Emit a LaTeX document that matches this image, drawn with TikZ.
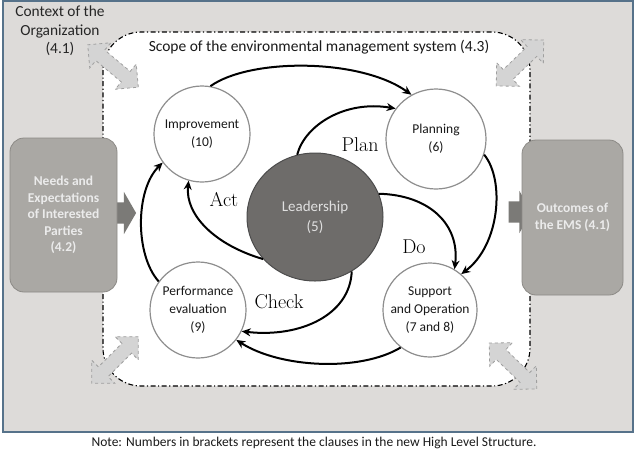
\documentclass[tikz,border=0pt]{standalone}
\usepackage{fontspec}
\setsansfont{Carlito}
\usetikzlibrary{shapes.geometric,shapes.arrows,arrows.meta}
\definecolor{frame}{HTML}{56728A}
\definecolor{backdrop}{HTML}{DDDBD9}
\definecolor{boxgray}{HTML}{AAA8A4}
\definecolor{boxedge}{HTML}{8C8A86}
\definecolor{leader}{HTML}{6E6C6A}
\definecolor{ringgray}{HTML}{8E8E8E}
\definecolor{feedgray}{HTML}{7B7A77}
\definecolor{scopearrow}{HTML}{D4D4D4}

\begin{document}
\begin{tikzpicture}[x=1pt, y=-1pt,
	clause/.style={circle, draw=ringgray, line width=1.2pt, fill=white, align=center, inner sep=0pt, text=black!90, font=\sffamily\fontsize{13.5}{18}\selectfont},
	party/.style={draw=boxedge, fill=boxgray, rounded corners=14pt, line width=0.8pt, align=center, text=white!92!black, font=\sffamily\bfseries\fontsize{13.5}{16.5}\selectfont},
	cycle/.style={line width=2pt, -{Stealth[length=9pt,width=8pt]}},
	phase/.style={font=\fontsize{20}{24}\selectfont, text=black},
	feed/.style={single arrow, fill=feedgray, inner xsep=0pt, inner ysep=10.5pt, single arrow head extend=10.5pt, single arrow tip angle=120, minimum height=23pt},
	link/.style={double arrow, draw=gray!75, dashed, line width=0.8pt, fill=scopearrow, inner xsep=0pt, inner ysep=6.5pt, double arrow head extend=9.5pt, double arrow tip angle=90, minimum height=66pt},
	scopeline/.style={line width=1.1pt, dash pattern=on 5pt off 2.5pt on 1.2pt off 2.5pt}
]
	\useasboundingbox (0,0) rectangle (640,451);
	\draw[frame, line width=1.5pt, fill=backdrop] (3,1) rectangle (633,432);

	% scope of the system
	\draw[scopeline, fill=white, rounded corners=38pt] (103,32) rectangle (530,386);
	\node[font=\sffamily\fontsize{15.5}{18}\selectfont, text=black!90] (scope) at (319,47) {Scope of the environmental management system (4.3)};
	\node[align=center, text=black!85, font=\sffamily\fontsize{15.4}{18.5}\selectfont] (context) at (60,31) {Context of the\\Organization\\(4.1)};

	% corner arrows
	\foreach \name/\px/\py/\ang in {ctl/113/66/-40, ctr/520/63/44, cbl/115/360/45, cbr/513/366/-44}{
		\node[link, rotate=\ang] (\name) at (\px,\py) {};
	}

	% inputs and outputs
	\node[feed] (feedin) at (121.5,213) {};
	\node[feed] (feedout) at (517,212) {};
	\node[party, minimum width=107pt, minimum height=154pt] (needs) at (63.5,215) {Needs and\\Expectations\\of Interested\\Parties\\(4.2)};
	\node[party, minimum width=101pt, minimum height=155pt] (outcomes) at (572.5,217.5) {Outcomes of\\the EMS (4.1)};

	% clauses
	\node[clause, minimum size=96pt] (imp) at (202,134) {Improvement\\(10)};
	\node[clause, minimum size=100pt] (plan) at (436,139) {Planning\\(6)};
	\node[clause, minimum size=96pt] (perf) at (198,310) {Performance\\evaluation\\(9)};
	\node[clause, minimum size=94pt] (supp) at (430,310) {Support\\and Operation\\(7 and 8)};
	\node[ellipse, draw=black!70, line width=1pt, fill=leader, minimum width=136pt, minimum height=128pt, text=white!88!black, align=center, font=\sffamily\fontsize{15}{20}\selectfont] (lead) at (315,217) {Leadership\\(5)};

	% outer cycle
	\draw[cycle] (imp.80) .. controls (250,58) and (360,58) .. (plan.119);
	\draw[cycle] (plan.-18) .. controls (505,180) and (500,245) .. (supp.49);
	\draw[cycle] (supp.232) .. controls (360,372) and (280,368) .. (perf.322);
	\draw[cycle] (perf.144) .. controls (135,255) and (135,190) .. (imp.216);

	% from leadership
	\draw[cycle] (lead.106) .. controls (305,125) and (345,100) .. (plan.143);
	\draw[cycle] (lead.20) .. controls (430,195) and (460,225) .. (supp.59);
	\draw[cycle] (lead.-56) .. controls (350,315) and (300,338) .. (perf.-26);
	\draw[cycle] (lead.219) .. controls (215,245) and (185,215) .. (imp.254);

	\node[phase] (act) at (224,200) {Act};
	\node[phase] (planlabel) at (360,145) {Plan};
	\node[phase] (do) at (414,247) {Do};
	\node[phase] (check) at (279,302) {Check};

	\node[font=\sffamily\fontsize{13.5}{16}\selectfont, text=black!90] (note) at (314,443) {Note: Numbers in brackets represent the clauses in the new High Level Structure.};
\end{tikzpicture}
\end{document}
